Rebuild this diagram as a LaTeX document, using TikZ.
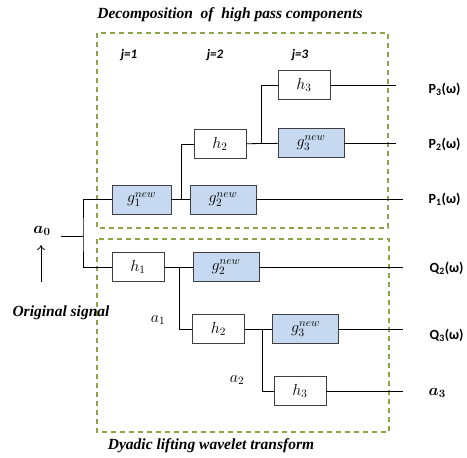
\RequirePackage{fix-cm}
\documentclass[tikz,border=0pt]{standalone}
\usepackage{amsmath,amssymb,bm}
\usepackage{fontspec}
\setmainfont{Liberation Serif}
\newfontfamily\calfont{Carlito}
\usetikzlibrary{arrows.meta,calc}

\definecolor{boxblue}{HTML}{C6D9F1}
\definecolor{dashgreen}{HTML}{8AA54A}
\definecolor{edgegray}{HTML}{3F3F3F}

\tikzset{
  filt/.style={draw=edgegray, line width=0.9pt, minimum height=29pt, inner sep=0pt, font=\fontsize{16}{18}\selectfont},
  hbox/.style={filt, fill=white, minimum width=52pt},
  gbox/.style={filt, fill=boxblue, minimum width=66pt},
  group/.style={draw=dashgreen, line width=1.3pt, dash pattern=on 5pt off 4pt},
  outlab/.style={font=\calfont\bfseries\fontsize{14}{16}\selectfont, anchor=west},
  jlab/.style={font=\calfont\bfseries\itshape\fontsize{13}{15}\selectfont},
  caption/.style={font=\bfseries\itshape\fontsize{15.5}{18}\selectfont}
}

\begin{document}
\begin{tikzpicture}[x=1pt, y=-1pt, line width=0.8pt]
    \useasboundingbox (0,0) rectangle (467,458);

    % dashed groups
    \draw[group] (97,33) rectangle (388,228);
    \draw[group] (97,239) rectangle (389,432);

    % titles
    \node[caption] (title) at (230,15) {Decomposition\ \ of\ \ high pass components};
    \node[caption] (foot) at (211,446) {Dyadic lifting wavelet transform};
    \node[caption] (orig) at (61,313) {Original signal};

    % levels
    \node[jlab] (j1) at (129,55) {j=1};
    \node[jlab] (j2) at (215,55) {j=2};
    \node[jlab] (j3) at (300,55) {j=3};

    % high pass branch
    \node[gbox, minimum width=59pt] (gA1) at (141.5,199.5) {$g_1^{new}$};
    \node[gbox] (gA2) at (223,199.5) {$g_2^{new}$};
    \node[hbox] (hA2) at (220,144) {$h_2$};
    \node[gbox] (gA3) at (311,143) {$g_3^{new}$};
    \node[hbox] (hA3) at (304,85) {$h_3$};

    % lifting branch
    \node[hbox] (hB1) at (138,267) {$h_1$};
    \node[gbox] (gB2) at (226,267) {$g_2^{new}$};
    \node[hbox] (hB2) at (218.5,329) {$h_2$};
    \node[gbox] (gB3) at (305.5,329) {$g_3^{new}$};
    \node[hbox] (hB3) at (300,391) {$h_3$};

    % input
    \node[font=\fontsize{16}{18}\selectfont] (a0) at (42,231) {$\bm{a_0}$};
    \coordinate (in) at (61,236);
    \coordinate (s0) at (83,236);
    \coordinate (arrA) at (41,282);
    \coordinate (arrB) at (41,245);
    \draw[-{To[length=5pt,width=8pt]}, line width=0.7pt] (arrA) -- (arrB);
    \draw (in) -- (s0);
    \draw (gA1) -| (s0) |- (hB1);

    % junctions
    \coordinate (cA) at (181,199.5);
    \coordinate (cB) at (261,143.5);
    \coordinate (cC) at (179,267);
    \coordinate (cD) at (262,329);
    \draw (gA1) -- (gA2);
    \draw (cA) |- (hA2);
    \draw (hA2) -- (gA3);
    \draw (cB) |- (hA3);
    \draw (hB1) -- (gB2);
    \draw (cC) |- (hB2);
    \draw (hB2) -- (gB3);
    \draw (cD) |- (hB3);

    \node[font=\fontsize{16}{18}\selectfont] (a1) at (158,320) {$a_1$};
    \node[font=\fontsize{16}{18}\selectfont] (a2) at (237,380) {$a_2$};

    % outputs
    \node[outlab] (P3) at (425,89) {P\textsubscript{3}(ω)};
    \node[outlab] (P2) at (425,144) {P\textsubscript{2}(ω)};
    \node[outlab] (P1) at (425,199) {P\textsubscript{1}(ω)};
    \node[outlab] (Q2) at (426,268) {Q\textsubscript{2}(ω)};
    \node[outlab] (Q3) at (426,335) {Q\textsubscript{3}(ω)};
    \node[anchor=west, font=\fontsize{16}{18}\selectfont] (a3) at (425,393) {$\bm{a_3}$};
    \coordinate (eP3) at (396,85);
    \coordinate (eP2) at (396,143);
    \coordinate (eP1) at (403,199.5);
    \coordinate (eQ2) at (403,267);
    \coordinate (eQ3) at (403,329);
    \coordinate (ea3) at (403,391);
    \draw (hA3) -- (eP3);
    \draw (gA3) -- (eP2);
    \draw (gA2) -- (eP1);
    \draw (gB2) -- (eQ2);
    \draw (gB3) -- (eQ3);
    \draw (hB3) -- (ea3);
\end{tikzpicture}
\end{document}
